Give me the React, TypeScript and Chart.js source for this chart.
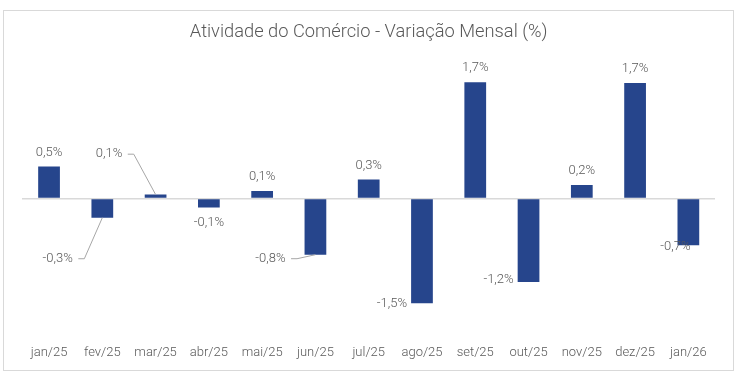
import React, { useEffect, useRef } from 'react';
import { Chart, registerables } from 'chart.js';

Chart.register(...registerables);

const categories = ['jan/25', 'fev/25', 'mar/25', 'abr/25', 'mai/25', 'jun/25', 'jul/25', 'ago/25', 'set/25', 'out/25', 'nov/25', 'dez/25', 'jan/26'];
const values = [0.47, -0.28, 0.06, -0.13, 0.11, -0.82, 0.28, -1.53, 1.7, -1.22, 0.2, 1.69, -0.68];
const chartTitle = 'Atividade do Comércio - Variação Mensal (%)';

// label placement relative to bar end (dx, dy), as placed manually in the original
const labelOffsets: [number, number][] = [
  [0, -14], [-44.6, 41], [-46.6, -40.3], [0, 15], [0, -14], [-45, 4], [0, -14],
  [-30, 0], [0, -14], [-30, -2], [0, -14], [0, -14], [-13, 2],
];
const leaderLines = [false, true, true, false, false, true, false, false, false, false, false, false, false];

const TEXT = '#595959';
const BAR = '#26458C';

const labelsPlugin = {
  id: 'valueLabels',
  afterDatasetsDraw(chart: any) {
    const ctx = chart.ctx;
    const meta = chart.getDatasetMeta(0);
    ctx.save();
    ctx.font = '300 13px Roboto';
    ctx.fillStyle = TEXT;
    ctx.textAlign = 'center';
    ctx.textBaseline = 'middle';
    meta.data.forEach((bar: any, i: number) => {
      const v = values[i];
      const text = v.toFixed(1).replace('.', ',') + '%';
      const [dx, dy] = labelOffsets[i];
      const tx = bar.x + dx;
      const ty = bar.y + dy;
      ctx.fillText(text, tx, ty);
      if (leaderLines[i]) {
        const w = ctx.measureText(text).width;
        const sx = tx + w / 2 + 5.5;
        ctx.beginPath();
        ctx.moveTo(sx, ty);
        ctx.lineTo(sx + 6, ty);
        ctx.lineTo(bar.x, bar.y);
        ctx.strokeStyle = '#a6a6a6';
        ctx.lineWidth = 1;
        ctx.stroke();
      }
    });
    ctx.restore();
  },
};

export default function App() {
  const ref = useRef<HTMLCanvasElement>(null);
  useEffect(() => {
    if (!ref.current) return;
    const chart = new Chart(ref.current, {
      type: 'bar',
      data: {
        labels: categories,
        datasets: [
          {
            data: values,
            backgroundColor: BAR,
            borderWidth: 0,
            categoryPercentage: 1,
            barPercentage: 0.408,
          },
        ],
      },
      options: {
        responsive: false,
        animation: false,
        layout: { padding: { left: 22.4, right: 32, top: 0, bottom: 0 } },
        plugins: {
          legend: { display: false },
          tooltip: { enabled: false },
          title: {
            display: true,
            text: chartTitle,
            color: TEXT,
            font: { family: 'Roboto', size: 18.3, weight: '300' },
            padding: { top: 21.3, bottom: 18.4 },
          },
        },
        scales: {
          x: {
            grid: { display: false, drawTicks: false },
            border: { display: false },
            ticks: { color: TEXT, font: { family: 'Roboto', size: 13, weight: '300' }, padding: 9, maxRotation: 0, autoSkip: false },
            afterFit: (scale: any) => {
              scale.height = 44.5;
            },
          },
          y: {
            min: -2,
            max: 2,
            ticks: { display: false, stepSize: 0.5 },
            border: { display: false },
            grid: {
              drawTicks: false,
              color: (c: any) => (c.tick && c.tick.value === 0 ? '#D9D9D9' : 'rgba(0,0,0,0)'),
              lineWidth: 1.5,
            },
          },
        },
      },
      plugins: [labelsPlugin],
    });
    return () => chart.destroy();
  }, []);
  return (
    <div style={{ position: 'absolute', left: 0, top: 0, width: 747, height: 380, background: '#fff' }}>
      <div
        style={{
          position: 'absolute',
          left: 3,
          top: 10,
          width: 731,
          height: 361,
          border: '1px solid #D9D9D9',
          boxSizing: 'border-box',
          pointerEvents: 'none',
        }}
      />
      <canvas ref={ref} width={747} height={380} style={{ position: 'absolute', left: 0, top: 0 }} />
    </div>
  );
}
